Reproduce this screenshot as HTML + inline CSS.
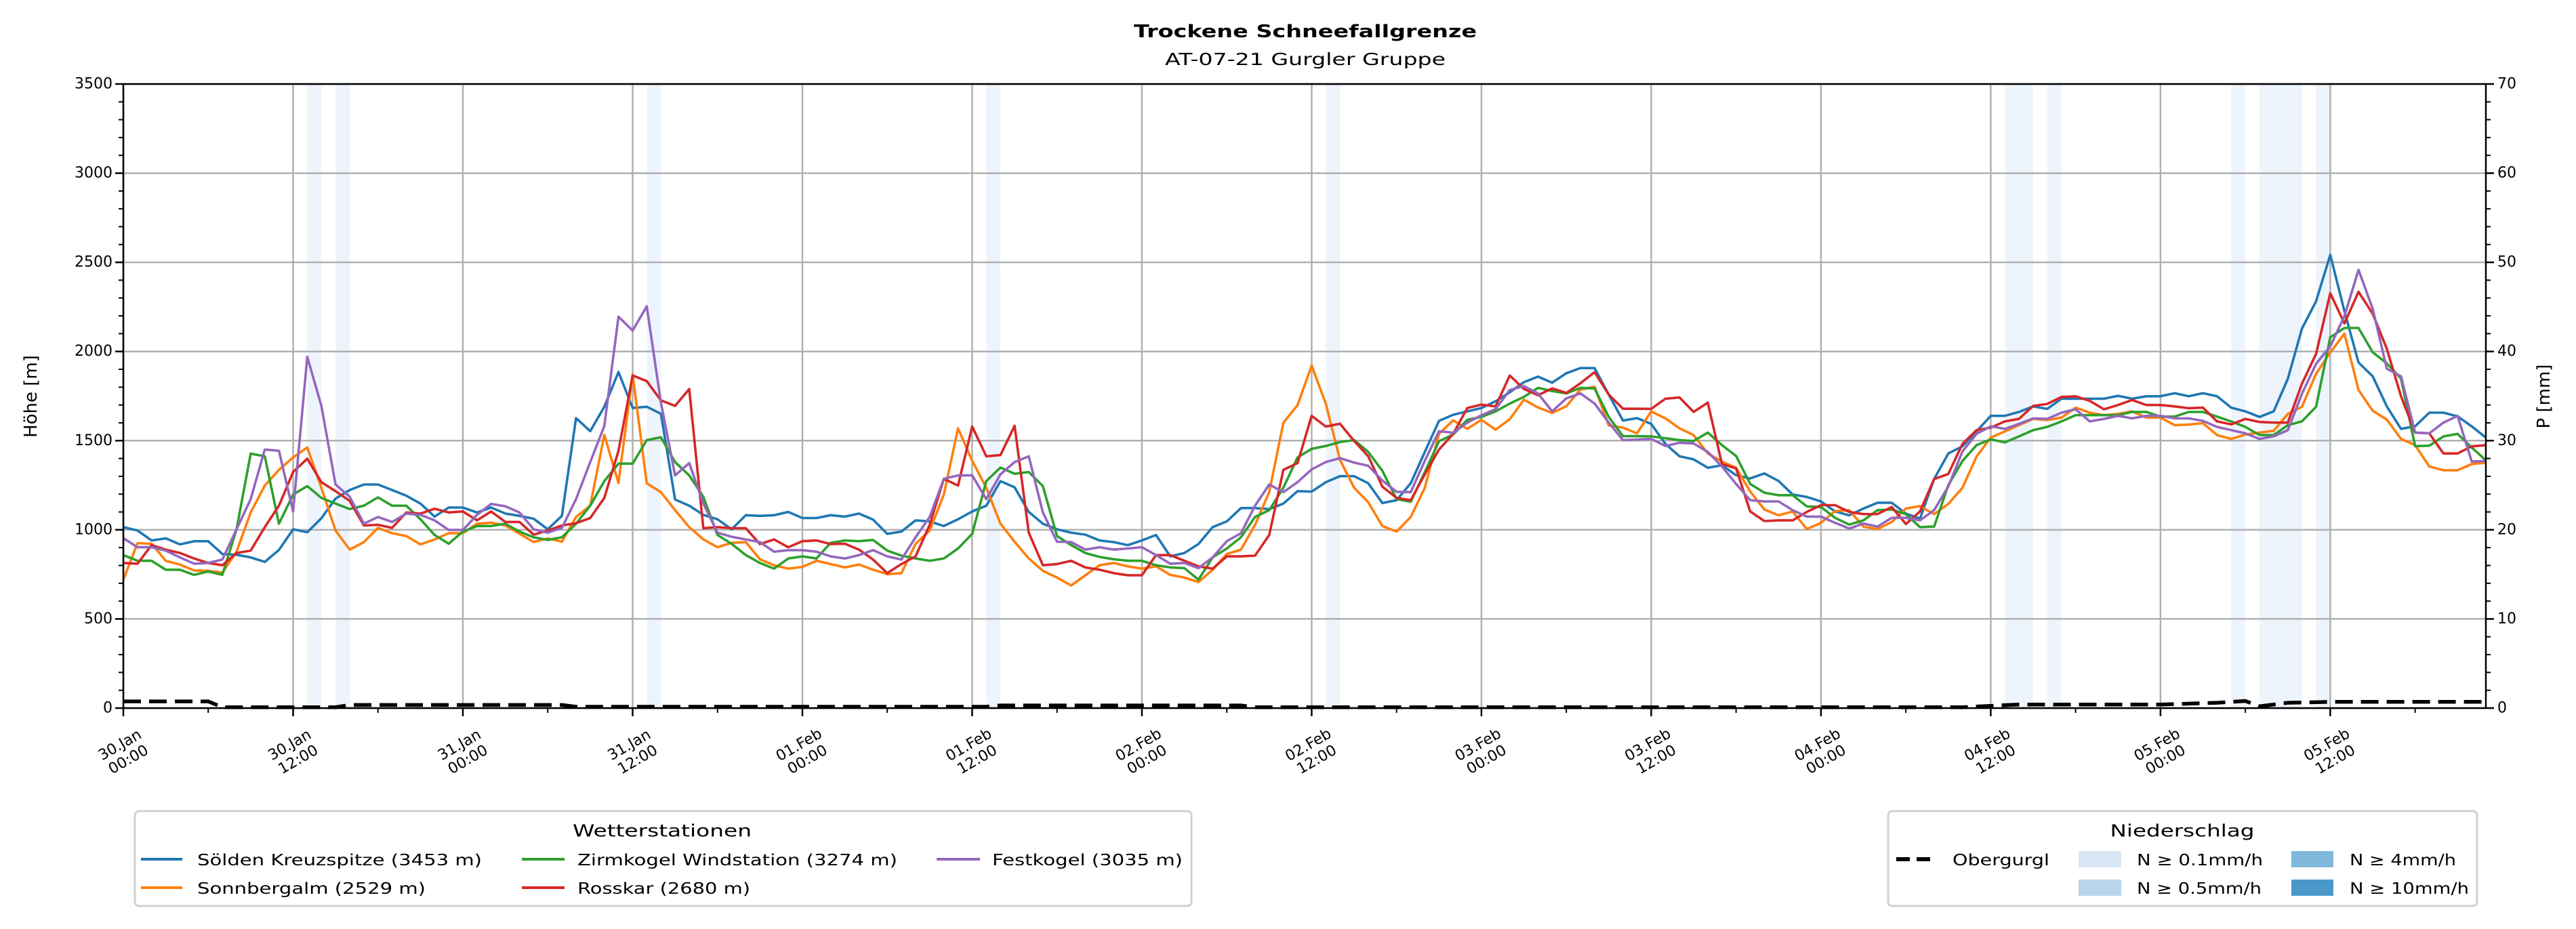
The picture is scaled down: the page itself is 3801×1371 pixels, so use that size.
<!DOCTYPE html>
<html><head><meta charset="utf-8"><style>
html,body{margin:0;padding:0;background:#fff;}
svg{display:block;font-family:"DejaVu Sans","Liberation Sans",sans-serif;}
</style></head><body>
<svg id="chart" xmlns="http://www.w3.org/2000/svg" width="3801" height="1371" viewBox="0 0 3801 1371">
<rect width="3801" height="1371" fill="#fff"/>
<text x="1926" y="55" text-anchor="middle" font-size="26" font-weight="bold" textLength="506" lengthAdjust="spacingAndGlyphs">Trockene Schneefallgrenze</text>
<text x="1926" y="96" text-anchor="middle" font-size="25" textLength="414" lengthAdjust="spacingAndGlyphs">AT-07-21 Gurgler Gruppe</text>
<g id="bands"></g>
<g id="grid"></g>
<g id="series"></g>
<g id="axes"></g>
<text transform="translate(54,585) rotate(-90)" text-anchor="middle" font-size="26">Höhe [m]</text>
<text transform="translate(3762,585) rotate(-90)" text-anchor="middle" font-size="26">P [mm]</text>

<g>
<rect x="199" y="1197" width="1559" height="140" rx="6" fill="#fff" stroke="#d0d0d0" stroke-width="3"/>
<text x="977" y="1226" text-anchor="middle" dominant-baseline="central" font-size="25" textLength="264" lengthAdjust="spacingAndGlyphs">Wetterstationen</text>
<g><line x1="208" y1="1268" x2="269" y2="1268" stroke="#1f77b4" stroke-width="4"/><text x="291" y="1270" dominant-baseline="central" font-size="23" textLength="420" lengthAdjust="spacingAndGlyphs">Sölden Kreuzspitze (3453 m)</text></g>
<g><line x1="208" y1="1310" x2="269" y2="1310" stroke="#ff7f0e" stroke-width="4"/><text x="291" y="1312" dominant-baseline="central" font-size="23" textLength="337" lengthAdjust="spacingAndGlyphs">Sonnbergalm (2529 m)</text></g>
<g><line x1="770" y1="1268" x2="833" y2="1268" stroke="#2ca02c" stroke-width="4"/><text x="852" y="1270" dominant-baseline="central" font-size="23" textLength="472" lengthAdjust="spacingAndGlyphs">Zirmkogel Windstation (3274 m)</text></g>
<g><line x1="770" y1="1310" x2="833" y2="1310" stroke="#d62728" stroke-width="4"/><text x="852" y="1312" dominant-baseline="central" font-size="23" textLength="255" lengthAdjust="spacingAndGlyphs">Rosskar (2680 m)</text></g>
<g><line x1="1382" y1="1268" x2="1446" y2="1268" stroke="#9467bd" stroke-width="4"/><text x="1464" y="1270" dominant-baseline="central" font-size="23" textLength="281" lengthAdjust="spacingAndGlyphs">Festkogel (3035 m)</text></g>
</g>

<g>
<rect x="2786" y="1197" width="869" height="140" rx="6" fill="#fff" stroke="#d0d0d0" stroke-width="3"/>
<text x="3220" y="1226" text-anchor="middle" dominant-baseline="central" font-size="25" textLength="213" lengthAdjust="spacingAndGlyphs">Niederschlag</text>
<g><line x1="2798" y1="1268" x2="2854" y2="1268" stroke="#000" stroke-width="6" stroke-dasharray="20,10"/><text x="2881" y="1270" dominant-baseline="central" font-size="23" textLength="143" lengthAdjust="spacingAndGlyphs">Obergurgl</text></g>
<g><rect x="3067" y="1256" width="63" height="24" fill="#d6e6f4"/><text x="3153" y="1270" dominant-baseline="central" font-size="23" textLength="186" lengthAdjust="spacingAndGlyphs">N ≥ 0.1mm/h</text></g>
<g><rect x="3067" y="1298" width="63" height="24" fill="#b9d5ea"/><text x="3153" y="1312" dominant-baseline="central" font-size="23" textLength="184" lengthAdjust="spacingAndGlyphs">N ≥ 0.5mm/h</text></g>
<g><rect x="3381" y="1256" width="62" height="24" fill="#7fb8da"/><text x="3467" y="1270" dominant-baseline="central" font-size="23" textLength="157" lengthAdjust="spacingAndGlyphs">N ≥ 4mm/h</text></g>
<g><rect x="3381" y="1298" width="62" height="24" fill="#4a98c9"/><text x="3467" y="1312" dominant-baseline="central" font-size="23" textLength="176" lengthAdjust="spacingAndGlyphs">N ≥ 10mm/h</text></g>
</g>
</svg>
<script>
const xTickLabels = ["30.Jan|00:00","30.Jan|12:00","31.Jan|00:00","31.Jan|12:00","01.Feb|00:00","01.Feb|12:00","02.Feb|00:00","02.Feb|12:00","03.Feb|00:00","03.Feb|12:00","04.Feb|00:00","04.Feb|12:00","05.Feb|00:00","05.Feb|12:00"];
const yTicks = [0,500,1000,1500,2000,2500,3000,3500];
const y2Ticks = [0,10,20,30,40,50,60,70];
const precipHours = [13,15,37,61,85,133,134,136,149,151,152,153,155];
const obTimes = [0,6,7,15,16,31,32,61,62,79,80,130,134,144,148,150,151,153,156,167];
const obValues = [0.75,0.75,0.1,0.1,0.35,0.35,0.15,0.15,0.3,0.3,0.1,0.1,0.4,0.4,0.6,0.8,0.2,0.6,0.7,0.7];
const soelden = [1015,996,940,952,918,936,936,864,860,845,820,887,1003,986,1065,1175,1223,1254,1254,1223,1191,1147,1074,1125,1125,1097,1125,1091,1078,1062,1003,1078,1626,1553,1690,1885,1683,1690,1651,1170,1135,1084,1059,1003,1082,1078,1082,1100,1066,1066,1082,1074,1091,1057,977,990,1053,1047,1021,1059,1103,1135,1273,1238,1100,1034,1003,984,973,940,931,914,940,971,851,870,920,1015,1047,1122,1122,1116,1147,1217,1214,1267,1301,1301,1261,1150,1166,1261,1437,1611,1645,1664,1683,1721,1771,1828,1859,1825,1878,1907,1907,1758,1613,1626,1594,1482,1412,1395,1348,1362,1306,1288,1316,1274,1198,1184,1159,1103,1081,1119,1152,1152,1091,1063,1285,1428,1468,1552,1639,1639,1661,1692,1678,1735,1735,1735,1735,1751,1735,1749,1749,1766,1749,1766,1749,1685,1664,1633,1664,1847,2128,2282,2542,2226,1938,1861,1692,1566,1580,1657,1657,1636,1580,1517];
const sonnbergalm = [720,925,922,826,805,772,770,760,877,1097,1248,1336,1406,1462,1236,996,889,931,1011,981,965,918,946,981,981,1034,1040,1024,978,931,952,933,1072,1135,1532,1263,1871,1261,1211,1110,1015,946,902,927,931,835,801,782,792,826,808,789,805,776,751,757,921,996,1198,1569,1387,1236,1034,933,839,770,732,688,745,801,814,795,782,795,747,732,707,776,864,889,1028,1211,1601,1699,1921,1707,1392,1236,1154,1021,990,1072,1236,1538,1614,1566,1617,1561,1620,1730,1686,1655,1693,1787,1802,1585,1573,1541,1664,1625,1569,1531,1428,1383,1348,1215,1114,1081,1103,1004,1039,1105,1110,1018,1004,1044,1119,1133,1088,1145,1236,1411,1517,1552,1587,1622,1615,1629,1685,1657,1643,1650,1664,1629,1629,1587,1590,1598,1531,1510,1534,1545,1555,1650,1690,1875,1994,2100,1784,1668,1618,1510,1475,1355,1334,1334,1369,1376];
const zirmkogel = [858,826,826,776,776,747,766,747,1003,1427,1412,1034,1198,1245,1179,1147,1116,1135,1182,1135,1135,1059,971,922,990,1021,1021,1034,990,958,943,958,1034,1135,1273,1371,1371,1503,1519,1380,1305,1185,971,921,858,814,782,839,851,839,927,940,936,943,883,855,839,826,839,895,977,1273,1349,1314,1324,1245,965,914,870,848,835,826,826,801,789,785,720,845,895,958,1072,1110,1236,1406,1454,1470,1492,1503,1437,1330,1172,1157,1324,1497,1534,1617,1633,1664,1708,1746,1796,1778,1765,1796,1793,1633,1525,1525,1524,1514,1503,1498,1545,1475,1414,1257,1208,1194,1194,1131,1128,1067,1029,1053,1110,1114,1088,1015,1018,1250,1386,1475,1507,1490,1524,1559,1577,1608,1643,1643,1643,1643,1661,1661,1635,1635,1661,1661,1635,1608,1577,1531,1531,1587,1608,1690,2080,2132,2132,1996,1933,1848,1469,1472,1524,1538,1461,1390];
const rosskar = [814,810,914,889,870,839,814,801,870,883,1015,1135,1324,1399,1267,1217,1162,1024,1028,1011,1097,1091,1118,1097,1103,1053,1103,1044,1044,973,996,1024,1037,1066,1179,1443,1865,1834,1726,1695,1789,1009,1015,1009,1009,920,946,902,936,940,920,922,889,833,757,808,851,1028,1286,1248,1579,1412,1419,1583,984,801,808,826,789,776,757,745,745,858,858,826,795,782,851,851,855,971,1336,1374,1639,1579,1595,1498,1412,1242,1179,1166,1311,1450,1538,1683,1702,1692,1865,1790,1755,1793,1768,1822,1884,1758,1679,1679,1678,1735,1742,1661,1713,1369,1344,1103,1049,1053,1053,1100,1138,1138,1100,1088,1088,1128,1032,1103,1285,1313,1482,1559,1573,1608,1622,1695,1706,1745,1749,1723,1676,1700,1728,1700,1700,1692,1682,1685,1608,1591,1622,1605,1601,1601,1819,1987,2327,2157,2335,2212,2015,1749,1545,1541,1428,1428,1468,1475];
const festkogel = [953,902,902,883,845,810,814,833,1003,1172,1450,1443,1103,1970,1695,1254,1185,1034,1072,1044,1091,1084,1053,999,999,1084,1145,1132,1097,1003,984,1011,1172,1380,1582,2195,2117,2253,1714,1305,1374,1147,984,961,946,931,877,886,886,877,851,839,858,886,851,833,958,1072,1286,1305,1305,1172,1311,1380,1412,1097,933,931,889,902,889,895,902,858,810,814,785,845,936,981,1135,1254,1211,1267,1339,1380,1402,1377,1359,1276,1213,1211,1387,1553,1544,1601,1642,1677,1784,1806,1765,1664,1737,1765,1708,1601,1503,1506,1510,1470,1488,1484,1437,1355,1257,1166,1159,1159,1110,1074,1074,1039,1007,1035,1018,1067,1067,1053,1110,1243,1440,1538,1580,1566,1594,1625,1622,1657,1676,1608,1622,1639,1625,1639,1639,1625,1625,1611,1577,1559,1541,1510,1524,1559,1763,1931,2029,2198,2458,2240,1903,1861,1545,1541,1601,1639,1383,1386];
const seriesNames = ["soelden","sonnbergalm","zirmkogel","rosskar","festkogel"];
const seriesColors = ["#1f77b4","#ff7f0e","#2ca02c","#d62728","#9467bd"];

const NS="http://www.w3.org/2000/svg";
const X0=182,X1=3668,Y0=1045,Y1=124,TMAX=167,YMAX=3500,PMAX=70;
function x(t){return X0+t*(X1-X0)/TMAX;}
function y(v){return Y0-v/YMAX*(Y0-Y1);}
function y2(p){return Y0-p/PMAX*(Y0-Y1);}
function mk(tag,attrs,parent){const e=document.createElementNS(NS,tag);for(const k in attrs)e.setAttribute(k,attrs[k]);parent.appendChild(e);return e;}

const bands=document.getElementById('bands');
precipHours.forEach(h=>{
  const r=mk('rect',{x:x(h),y:Y1,width:x(h+1)-x(h),height:Y0-Y1,fill:'#eef4fb'},bands);
  
  
});

const grid=document.getElementById('grid');
xTickLabels.forEach((l,i)=>{
  const gx=x(i*12);
  const g=mk('line',{x1:gx,x2:gx,y1:Y1,y2:Y0,stroke:'#b0b0b0','stroke-width':2.5},grid);
  
  
});
yTicks.forEach(v=>{
  const g=mk('line',{x1:X0,x2:X1,y1:y(v),y2:y(v),stroke:'#b0b0b0','stroke-width':2.5},grid);
  
  
});

const series=document.getElementById('series');
[soelden,sonnbergalm,zirmkogel,rosskar,festkogel].forEach((arr,si)=>{
  const pts=arr.map((v,i)=>x(i).toFixed(1)+','+y(v).toFixed(1)).join(' ');
  const p=mk('polyline',{points:pts,fill:'none',stroke:seriesColors[si],'stroke-width':3.6,'stroke-linejoin':'round'},series);
  
  
});
const obPts=obTimes.map((t,i)=>x(t).toFixed(1)+','+y2(obValues[i]).toFixed(1)).join(' ');
const ob=mk('polyline',{points:obPts,fill:'none',stroke:'#000','stroke-width':5.5,'stroke-dasharray':'26,12'},series);



const axes=document.getElementById('axes');
const fr=mk('rect',{x:X0,y:Y1,width:X1-X0,height:Y0-Y1,fill:'none',stroke:'#000','stroke-width':2.5},axes);


for(let v=0;v<=YMAX;v+=100){
  const major=v%500===0;
  mk('line',{x1:X0,x2:X0-(major?12:7),y1:y(v),y2:y(v),stroke:'#000','stroke-width':major?2.5:2},axes);
}
for(let p=0;p<=PMAX;p+=2){
  const major=p%10===0;
  mk('line',{x1:X1,x2:X1+(major?12:7),y1:y2(p),y2:y2(p),stroke:'#000','stroke-width':major?2.5:2},axes);
}
for(let t=0;t<=TMAX;t+=6){
  const major=t%12===0;
  mk('line',{x1:x(t),x2:x(t),y1:Y0,y2:Y0+(major?12:7),stroke:'#000','stroke-width':major?2.5:2},axes);
}
yTicks.forEach(v=>{
  const t=mk('text',{x:X0-16,y:y(v),'text-anchor':'end','dominant-baseline':'central','font-size':22},axes);
  t.textContent=v;
  
  
});
y2Ticks.forEach(p=>{
  const t=mk('text',{x:X1+17,y:y2(p),'text-anchor':'start','dominant-baseline':'central','font-size':22},axes);
  t.textContent=p;
  
  
});
xTickLabels.forEach((l,i)=>{
  const parts=l.split('|');
  const g=mk('g',{transform:'translate('+x(i*12)+',1108) rotate(-30)'},axes);
  
  
  const a=mk('text',{x:0,y:-3,'text-anchor':'middle','font-size':22},g);a.textContent=parts[0];
  const b=mk('text',{x:0,y:22,'text-anchor':'middle','font-size':22},g);b.textContent=parts[1];
});
</script>
</body></html>
